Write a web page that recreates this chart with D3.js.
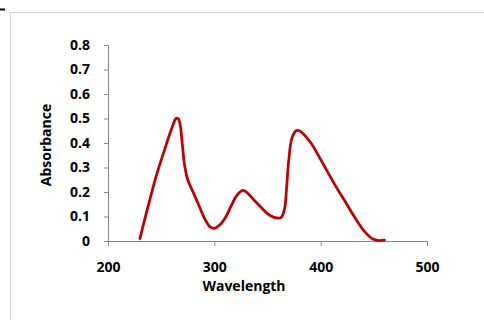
<!DOCTYPE html>
<html>
<head>
<meta charset="utf-8">
<script src="https://cdn.jsdelivr.net/npm/d3@7"></script>
<style>
  body { margin: 0; background: #fff; }
  #graf { width: 484px; height: 320px; }
  .eje text { font-family: 'Open Sans', sans-serif; font-weight: bold; font-size: 14px; fill: #000; }
  .eje path, .eje line { stroke: #868686; }
</style>
</head>
<body>
<div id="graf"></div>
<script>
// Datos
longitudes = [230, 237, 245, 253, 260, 264, 266, 268, 270, 272, 275, 280, 286, 291, 296, 300,
              305, 311, 316, 321, 327, 340, 352, 360, 363, 366, 368, 370, 373, 377, 380,
              390, 402, 414, 424, 433, 441, 449, 455, 460]
absorbancia = [0.01, 0.13, 0.26, 0.37, 0.46, 0.50, 0.50, 0.47, 0.39, 0.31, 0.25, 0.20, 0.14, 0.09, 0.058, 0.052,
               0.065, 0.10, 0.145, 0.185, 0.207, 0.155, 0.105, 0.093, 0.097, 0.13, 0.22, 0.33, 0.42, 0.45, 0.45,
               0.405, 0.317, 0.225, 0.154, 0.09, 0.04, 0.008, 0.002, 0.004]
ticksX = [200, 300, 400, 500]
ticksY = [0, 0.1, 0.2, 0.3, 0.4, 0.5, 0.6, 0.7, 0.8]

datos = longitudes.map((w, i) => ({ w: w, a: absorbancia[i] }))

graf = d3.select('#graf')
svg = graf.append('svg')
          .attr('width', 484)
          .attr('height', 320)

// Marco del area de la grafica
svg.append('rect')
   .attr('x', 10.5).attr('y', 12.5)
   .attr('width', 480).attr('height', 320)
   .style('fill', 'none')
   .style('stroke', '#d0d0d0')
svg.append('line')
   .attr('x1', 0).attr('x2', 5).attr('y1', 9.5).attr('y2', 9.5)
   .style('stroke', '#000').style('stroke-width', 2)

margen = { izquierdo: 108, superior: 45 }
ancho = 427 - 108
alto = 241 - 45

g = svg.append('g')
       .attr('transform', `translate(${margen.izquierdo}, ${margen.superior})`)

x = d3.scaleLinear().domain([200, 500]).range([0, ancho])
y = d3.scaleLinear().domain([0, 0.8]).range([alto, 0])

yAxisGroup = g.append('g').attr('class', 'eje')
              .call(d3.axisLeft(y).tickValues(ticksY).tickSize(4).tickSizeOuter(4)
                      .tickPadding(14).tickFormat(d => d === 0 ? '0' : d3.format('.1f')(d)))
xAxisGroup = g.append('g').attr('class', 'eje')
              .attr('transform', `translate(0, ${alto})`)
              .call(d3.axisBottom(x).tickValues(ticksX).tickSize(5).tickSizeOuter(0).tickPadding(16))

// Linea del espectro
linea = d3.line()
          .x(d => x(d.w))
          .y(d => y(d.a))
          .curve(d3.curveCatmullRom.alpha(0.5))

g.append('path')
 .datum(datos)
 .attr('d', linea)
 .style('fill', 'none')
 .style('stroke', '#c00000')
 .style('stroke-width', 2.75)
 .style('stroke-linecap', 'round')

// Titulos de ejes
svg.append('text')
   .attr('x', 244).attr('y', 291)
   .attr('text-anchor', 'middle')
   .style('font-family', "'Open Sans', sans-serif")
   .style('font-weight', 'bold').style('font-size', '14px')
   .text('Wavelength')
svg.append('text')
   .attr('transform', 'translate(51, 145) rotate(-90)')
   .attr('text-anchor', 'middle')
   .style('font-family', "'Open Sans', sans-serif")
   .style('font-weight', 'bold').style('font-size', '14px')
   .text('Absorbance')
</script>
</body>
</html>
